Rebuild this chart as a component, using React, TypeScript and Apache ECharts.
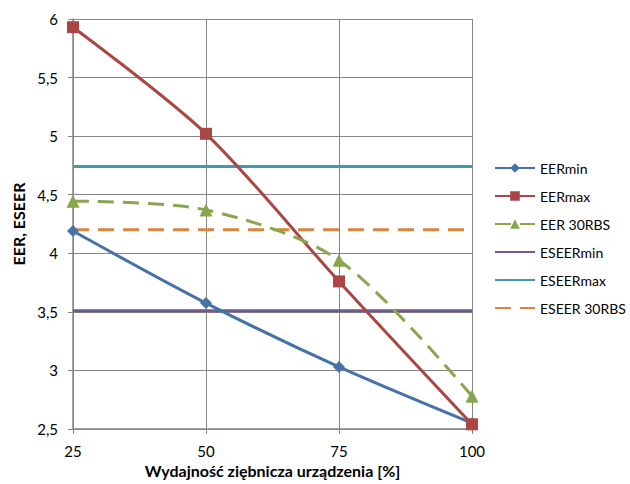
import React, { useEffect, useRef } from "react";
import * as echarts from "echarts";

const xValues = [25, 50, 75, 100];
const eerMin = [4.19, 3.575, 3.03, 2.55];
const eerMax = [5.93, 5.02, 3.76, 2.54];
const eer30 = [4.445, 4.37, 3.94, 2.78];
const eseerMin = 3.51;
const eseerMax = 4.74;
const eseer30 = 4.2;
const seriesNames = ["EERmin", "EERmax", "EER 30RBS", "ESEERmin", "ESEERmax", "ESEER 30RBS"];
const colors = ["#4572A7", "#AA4643", "#89A54E", "#71588F", "#4198AF", "#DB843D"];

export default function App() {
  const ref = useRef<HTMLDivElement>(null);
  useEffect(() => {
    if (!ref.current) return;
    const chart = echarts.init(ref.current, undefined, { renderer: "svg" });
    const pts = (arr: number[]) => xValues.map((x, i) => [x, arr[i]]);
    const flat = (v: number) => xValues.map((x) => [x, v]);
    const font = "Lato, 'Open Sans', sans-serif";
    const legendData = seriesNames.map((n, i) =>
      i >= 3 ? { name: n, itemStyle: { color: "rgba(0,0,0,0)", borderWidth: 0 } } : { name: n }
    );
    chart.setOption({
      animation: false,
      backgroundColor: "#ffffff",
      color: colors,
      grid: { left: 73, right: 158, top: 19, bottom: 55 },
      xAxis: {
        type: "value",
        min: 25,
        max: 100,
        interval: 25,
        name: "Wydajność ziębnicza urządzenia [%]",
        nameLocation: "middle",
        nameGap: 33,
        nameTextStyle: { fontFamily: font, fontWeight: "bold", fontSize: 16, color: "#000" },
        axisLine: { show: true, lineStyle: { color: "#868686", width: 1.5 } },
        axisTick: { show: true, length: 5, lineStyle: { color: "#868686" } },
        axisLabel: { fontFamily: font, fontSize: 15, color: "#000", margin: 14 },
        splitLine: { show: true, lineStyle: { color: "#868686", width: 1 } },
      },
      yAxis: {
        type: "value",
        min: 2.5,
        max: 6,
        interval: 0.5,
        name: "EER, ESEER",
        nameLocation: "middle",
        nameGap: 44,
        nameTextStyle: { fontFamily: font, fontWeight: "bold", fontSize: 16, color: "#000" },
        axisLine: { show: true, lineStyle: { color: "#868686", width: 1.5 } },
        axisTick: { show: true, length: 5, lineStyle: { color: "#868686" } },
        axisLabel: {
          fontFamily: font,
          fontSize: 15,
          color: "#000",
          margin: 15,
          formatter: (v: number) => String(v).replace(".", ","),
        },
        splitLine: { show: true, lineStyle: { color: "#868686", width: 1 } },
      },
      legend: {
        orient: "vertical",
        left: 489,
        top: 156,
        itemGap: 14,
        itemWidth: 40,
        itemHeight: 12,
        textStyle: { fontFamily: font, fontSize: 14, color: "#000" },
        data: legendData,
      },
      series: [
        {
          name: seriesNames[0],
          type: "line",
          data: pts(eerMin),
          smooth: 0.3,
          symbol: "diamond",
          symbolSize: 12,
          lineStyle: { width: 3, color: colors[0] },
          itemStyle: { color: colors[0] },
          z: 5,
        },
        {
          name: seriesNames[1],
          type: "line",
          data: pts(eerMax),
          smooth: 0.3,
          symbol: "rect",
          symbolSize: 12,
          lineStyle: { width: 3, color: colors[1] },
          itemStyle: { color: colors[1] },
          z: 5,
        },
        {
          name: seriesNames[2],
          type: "line",
          data: pts(eer30),
          smooth: 0.3,
          symbol: "triangle",
          symbolSize: 13,
          lineStyle: { width: 3, color: colors[2], type: [16, 9] },
          itemStyle: { color: colors[2] },
          z: 5,
        },
        {
          name: seriesNames[3],
          type: "line",
          data: flat(eseerMin),
          symbol: "none",
          lineStyle: { width: 3, color: colors[3] },
          itemStyle: { color: colors[3] },
        },
        {
          name: seriesNames[4],
          type: "line",
          data: flat(eseerMax),
          symbol: "none",
          lineStyle: { width: 3, color: colors[4] },
          itemStyle: { color: colors[4] },
        },
        {
          name: seriesNames[5],
          type: "line",
          data: flat(eseer30),
          symbol: "none",
          lineStyle: { width: 3, color: colors[5], type: [16, 9] },
          itemStyle: { color: colors[5] },
        },
      ],
    });
    return () => chart.dispose();
  }, []);
  return (
    <div
      ref={ref}
      style={{ position: "fixed", left: 0, top: 0, width: 630, height: 484 }}
    />
  );
}
